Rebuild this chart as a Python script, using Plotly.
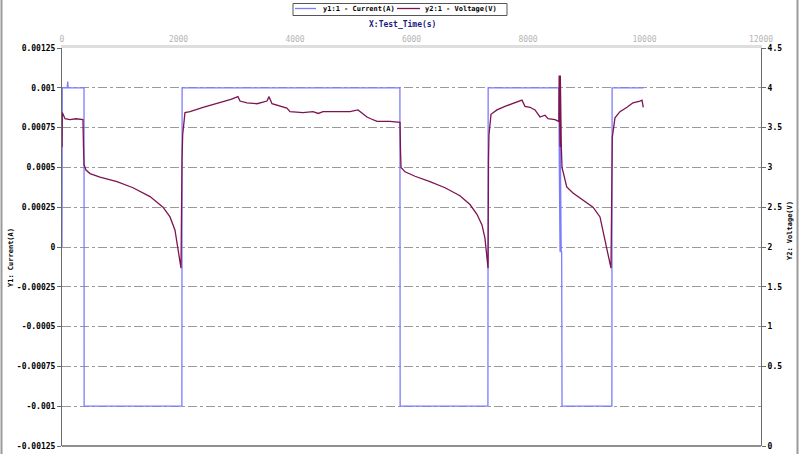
import plotly.graph_objects as go

# ---- data ----
time_current_s = [0, 5, 90, 98, 106, 378, 380, 2058, 2062, 5801, 5805, 7312, 7316,
                  8530, 8535, 8540, 8545, 8550, 8555, 8560, 8565, 8570, 8578, 8584,
                  9440, 9444, 9980]
current_a = [0, 0.001, 0.001, 0.00104, 0.001, 0.001, -0.001, -0.001, 0.001, 0.001, -0.001,
             -0.001, 0.001, 0.001, 0.00063, -0.00003, 0.00063, -0.00003, 0.00063, -0.00003,
             0.00063, -0.00003, -0.00003, -0.001, -0.001, 0.001, 0.001]

time_voltage_s = [0, 5, 52, 137, 240, 360,
                  369, 378, 412, 481, 652, 944, 1219, 1511, 1734, 1854, 1940, 1991, 2043,
                  2060, 2072, 2111, 2197, 2421, 2712, 2900, 3021, 3056, 3176, 3348, 3519, 3554,
                  3605, 3742, 3860, 3914, 4137, 4309, 4400, 4481, 4721, 4944, 5081, 5150, 5236,
                  5300, 5408, 5631, 5803,
                  5811, 5820, 5888, 6060, 6317, 6575, 6832, 7004, 7124, 7210, 7261, 7296, 7314,
                  7322, 7330, 7365, 7468, 7605, 7777, 7897, 7948, 8034, 8120, 8206, 8292, 8343,
                  8463, 8530,
                  8535, 8540, 8545, 8550, 8555, 8560, 8565, 8572, 8584,
                  8596, 8665, 8772, 8944, 9116, 9236, 9288, 9356, 9425,
                  9442, 9447, 9493, 9579, 9699, 9802, 9922, 9957, 9979]
voltage_v = [3.38, 3.77, 3.70, 3.69, 3.70, 3.69,
             3.38, 3.18, 3.12, 3.08, 3.04, 2.99, 2.92, 2.82, 2.70, 2.59, 2.44, 2.25, 2.01,
             3.23, 3.52, 3.77, 3.78, 3.83, 3.88, 3.92, 3.95, 3.90, 3.88, 3.87, 3.90, 3.95,
             3.87, 3.84, 3.82, 3.78, 3.77, 3.78, 3.76, 3.78, 3.78, 3.78, 3.80, 3.76, 3.72,
             3.70, 3.67, 3.67, 3.66,
             3.35, 3.15, 3.10, 3.05, 2.99, 2.92, 2.83, 2.73, 2.62, 2.50, 2.35, 2.16, 2.01,
             3.23, 3.52, 3.75, 3.80, 3.84, 3.88, 3.91, 3.84, 3.83, 3.80, 3.72, 3.74, 3.70,
             3.69, 3.67,
             4.19, 3.38, 4.19, 3.38, 4.19, 3.38, 4.19, 3.38, 3.15,
             3.12, 2.93, 2.86, 2.78, 2.70, 2.59, 2.41, 2.22, 2.01,
             3.23, 3.49, 3.71, 3.78, 3.83, 3.88, 3.90, 3.91, 3.83]

series_names = ["y1:1 - Current(A)", "y2:1 - Voltage(V)"]
series_colors = ["#7c7cff", "#7d1452"]

x_ticks = [0, 2000, 4000, 6000, 8000, 10000, 12000]
x_labels = ["0", "2000", "4000", "6000", "8000", "10000", "12000"]
y1_ticks = [-0.00125, -0.001, -0.00075, -0.0005, -0.00025, 0, 0.00025, 0.0005, 0.00075, 0.001, 0.00125]
y1_labels = ["-0.00125", "-0.001", "-0.00075", "-0.0005", "-0.00025", "0",
             "0.00025", "0.0005", "0.00075", "0.001", "0.00125"]
y2_ticks = [0, 0.9, 1.35, 1.8, 2.25, 2.7, 3.15, 3.6, 4.05, 4.5]
y2_labels = ["0", "0.5", "1", "1.5", "2", "2.5", "3", "3.5", "4", "4.5"]

FONT = "DejaVu Sans Mono"
L, R, T, B, W, H = 62, 39, 48, 8, 800, 454
PW, PH = W - L - R, H - T - B


def px(x):
    return (x - L) / PW


def py(y):
    return (H - B - y) / PH


fig = go.Figure()
fig.add_trace(go.Scatter(x=time_current_s, y=current_a, mode="lines",
                         name=series_names[0],
                         line=dict(color=series_colors[0], width=1.3)))
fig.add_trace(go.Scatter(x=time_voltage_s, y=voltage_v, mode="lines",
                         name=series_names[1], yaxis="y2",
                         line=dict(color=series_colors[1], width=1.3)))

annotations = [
    dict(text="X:Test_Time(s)", xref="paper", yref="paper",
         x=px(402), y=py(24), xanchor="center", yanchor="middle", showarrow=False,
         font=dict(family=FONT, size=8, weight="bold", color="#1a1a80")),
    dict(text="Y1: Current(A)", xref="paper", yref="paper",
         x=px(11), y=py(258), xanchor="center", yanchor="middle", showarrow=False,
         textangle=-90, font=dict(family=FONT, size=7, weight="bold", color="black")),
    dict(text="Y2: Voltage(V)", xref="paper", yref="paper",
         x=px(790), y=py(231), xanchor="center", yanchor="middle", showarrow=False,
         textangle=-90, font=dict(family=FONT, size=7, weight="bold", color="black")),
]
shapes = [
    dict(type="line", xref="paper", yref="paper", x0=0, x1=1, y0=0, y1=0,
         line=dict(color="#6a6a6a", width=1.5), layer="above"),
    dict(type="line", xref="paper", yref="paper", x0=px(1.5), x1=px(1.5),
         y0=py(456), y1=py(-2), line=dict(color="#9a9a9a", width=2)),
    dict(type="line", xref="paper", yref="paper", x0=px(797.5), x1=px(797.5),
         y0=py(456), y1=py(-2), line=dict(color="#9a9a9a", width=2)),
    # legend box
    dict(type="rect", xref="paper", yref="paper", x0=px(293), x1=px(507),
         y0=py(15.5), y1=py(3.5), line=dict(color="#555", width=1), fillcolor="white"),
]
legend_sample_x = [(295, 316), (397, 420)]
legend_text_x = [321, 423]
for i in range(2):
    shapes.append(dict(type="line", xref="paper", yref="paper",
                       x0=px(legend_sample_x[i][0]), x1=px(legend_sample_x[i][1]),
                       y0=py(8.5), y1=py(8.5),
                       line=dict(color=series_colors[i], width=1.3)))
    annotations.append(dict(text=series_names[i], xref="paper", yref="paper",
                            x=px(legend_text_x[i]), y=py(9), xanchor="left", yanchor="middle",
                            showarrow=False,
                            font=dict(family=FONT, size=7, weight="bold", color="black")))

fig.update_layout(
    width=W, height=H,
    margin=dict(l=L, r=R, t=T, b=B, autoexpand=False),
    paper_bgcolor="white", plot_bgcolor="white",
    font=dict(family=FONT, size=8, color="black"),
    showlegend=False,
    xaxis=dict(range=[0, 12000], side="top", tickvals=x_ticks, ticktext=x_labels,
               tickfont=dict(family=FONT, size=8, color="#b5b5b5"),
               showgrid=False, zeroline=False, automargin=False,
               showline=True, linecolor="#dedede", linewidth=3,
               ticks="", fixedrange=True),
    yaxis=dict(range=[-0.00125, 0.00125], tickvals=y1_ticks, ticktext=y1_labels,
               tickfont=dict(family=FONT, size=8, weight="bold", color="black"),
               showgrid=True, gridcolor="#9a9a9a", griddash="dashdot", gridwidth=1,
               zeroline=False, showline=True, linecolor="#6a6a6a", linewidth=1,
               automargin=False,
               ticks="outside", ticklen=4, tickcolor="#6a6a6a"),
    yaxis2=dict(range=[0, 4.5], overlaying="y", side="right",
                tickvals=y2_ticks, ticktext=y2_labels,
                tickfont=dict(family=FONT, size=8, weight="bold", color="black"),
                showgrid=False, zeroline=False, showline=True,
                linecolor="#6a6a6a", linewidth=1, automargin=False,
                ticks="outside", ticklen=4, tickcolor="#6a6a6a"),
    annotations=annotations,
    shapes=shapes,
)

fig.write_html("out.html", config={"displayModeBar": False},
               post_script="document.body.style.margin='0';document.body.style.overflow='hidden';")
